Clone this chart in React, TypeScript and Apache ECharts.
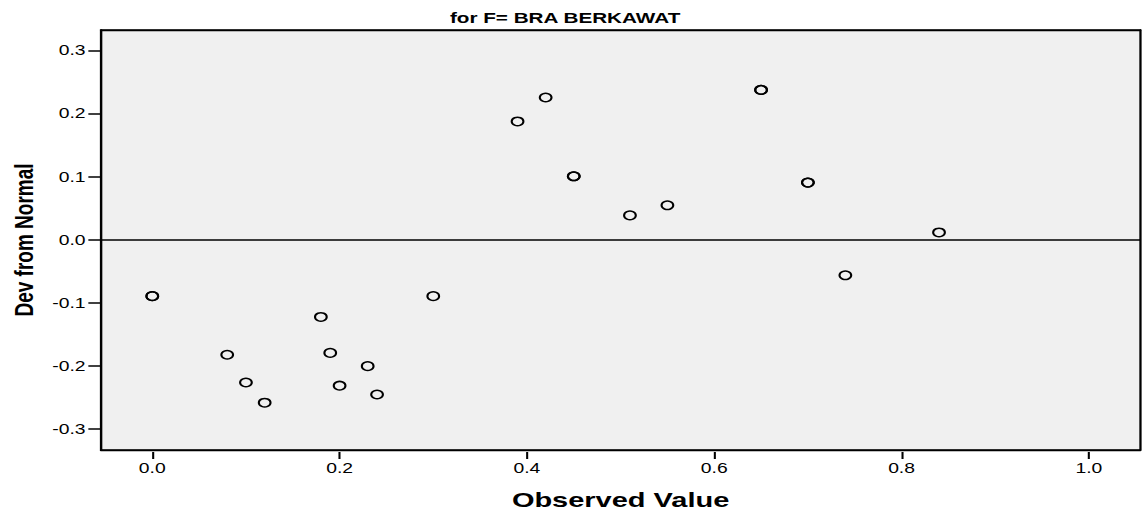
import React, { useEffect, useRef } from "react";
import * as echarts from "echarts";

// Data (detrended normal Q-Q plot)
const observedValues = [
  0.0, 0.0, 0.08, 0.1, 0.12, 0.18, 0.19, 0.2, 0.23, 0.24, 0.3, 0.39, 0.42, 0.45, 0.45,
  0.51, 0.55, 0.65, 0.65, 0.7, 0.7, 0.74, 0.84,
];
const devFromNormal = [
  -0.089, -0.089, -0.182, -0.226, -0.258, -0.122, -0.179, -0.231, -0.2, -0.245, -0.089,
  0.188, 0.226, 0.101, 0.101, 0.039, 0.055, 0.238, 0.238, 0.091, 0.091, -0.056, 0.012,
];
const xTicks = [0, 0.2, 0.4, 0.6, 0.8, 1.0];
const yTicks = [-0.3, -0.2, -0.1, 0, 0.1, 0.2, 0.3];
const titleText = "for F= BRA BERKAWAT";
const xName = "Observed Value";
const yName = "Dev from Normal";

const S = 1.38; // horizontal stretch of the reference picture
const W = 1146 / S;
const H = 515;
const FONT = "Liberation Sans, Arial, sans-serif";
const X_MIN = -0.055;
const X_MAX = 1.055;
const Y_MIN = -0.333;
const Y_MAX = 0.333;

export default function App() {
  const ref = useRef<HTMLDivElement>(null);

  useEffect(() => {
    if (!ref.current) return;
    const chart = echarts.init(ref.current, undefined, { renderer: "svg" });
    const points = observedValues.map((x, i) => [x, devFromNormal[i]]);
    const frameLine = { show: true, onZero: false, lineStyle: { color: "#000", width: 1.3 } };
    const bare = {
      type: "value",
      axisTick: { show: false },
      axisLabel: { show: false },
      splitLine: { show: false },
    };
    chart.setOption({
      animation: false,
      backgroundColor: "#ffffff",
      title: {
        text: titleText,
        left: 326,
        top: 11,
        padding: 0,
        textStyle: { fontSize: 15, fontWeight: "bold", color: "#000", fontFamily: FONT },
      },
      grid: {
        show: true,
        left: 72.5,
        right: W - 826.8,
        top: 30,
        bottom: H - 451.7,
        backgroundColor: "#f0f0f0",
        borderColor: "#000",
        borderWidth: 1.3,
      },
      xAxis: [
        {
          type: "value",
          min: X_MIN,
          max: X_MAX,
          offset: 2,
          name: xName,
          nameLocation: "middle",
          nameGap: 37,
          nameTextStyle: { fontSize: 21, fontWeight: "bold", color: "#000", fontFamily: FONT },
          axisLine: { show: false, onZero: false },
          axisTick: {
            show: true,
            length: 7,
            customValues: xTicks,
            lineStyle: { color: "#000", width: 1.5 },
          },
          axisLabel: {
            customValues: xTicks,
            margin: 9,
            fontSize: 14,
            color: "#000",
            fontFamily: FONT,
            formatter: (v: number) => v.toFixed(1),
          },
          splitLine: { show: false },
        },
        { ...bare, min: X_MIN, max: X_MAX, position: "bottom", axisLine: frameLine },
        { ...bare, min: X_MIN, max: X_MAX, position: "top", axisLine: frameLine },
      ],
      yAxis: [
        {
          type: "value",
          min: Y_MIN,
          max: Y_MAX,
          name: yName,
          nameLocation: "middle",
          nameGap: 42,
          nameRotate: 90,
          nameTextStyle: { fontSize: 19, fontWeight: "bold", color: "#000", fontFamily: FONT },
          axisLine: frameLine,
          axisTick: {
            show: true,
            length: 9,
            customValues: yTicks,
            lineStyle: { color: "#000", width: 1.5 },
          },
          axisLabel: {
            customValues: yTicks,
            margin: 11,
            fontSize: 14,
            color: "#000",
            fontFamily: FONT,
            formatter: (v: number) => v.toFixed(1),
          },
          splitLine: { show: false },
        },
        { ...bare, min: Y_MIN, max: Y_MAX, position: "right", axisLine: frameLine },
      ],
      series: [
        {
          type: "scatter",
          data: points,
          symbol: "circle",
          symbolSize: 8.5,
          clip: false,
          itemStyle: { color: "rgba(0,0,0,0)", borderColor: "#000", borderWidth: 1.5, opacity: 1 },
          markLine: {
            silent: true,
            symbol: ["none", "none"],
            label: { show: false },
            lineStyle: { color: "#000", width: 1.5, type: "solid" },
            data: [{ yAxis: 0 }],
          },
        },
      ],
    });
    return () => chart.dispose();
  }, []);

  return (
    <div
      style={{
        position: "fixed",
        left: 0,
        top: 0,
        width: 1146,
        height: H,
        overflow: "hidden",
        background: "#fff",
      }}
    >
      <div
        ref={ref}
        style={{
          width: W,
          height: H,
          transform: `scaleX(${S})`,
          transformOrigin: "0 0",
        }}
      />
    </div>
  );
}
